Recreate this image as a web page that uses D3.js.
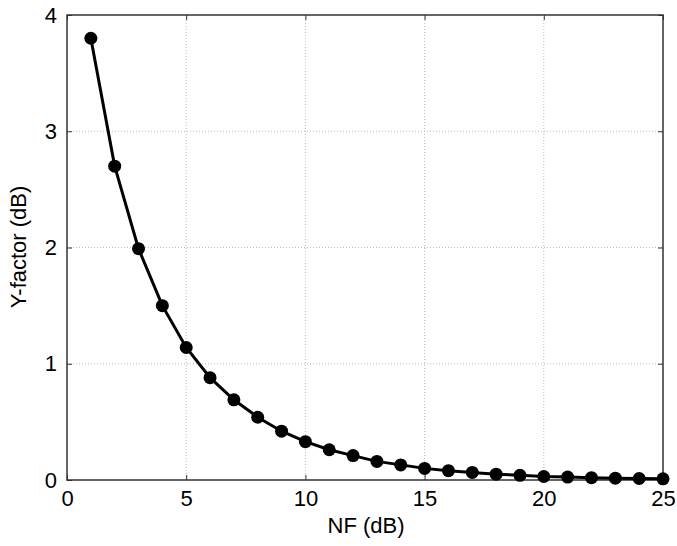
<!DOCTYPE html>
<meta charset="utf-8">
<style>
  body { margin: 0; background: #fff; }
  text { font-family: "Liberation Sans", Arial, sans-serif; }
</style>
<div id="chart"></div>
<script src="https://cdn.jsdelivr.net/npm/d3@7"></script>
<script>

// data
var nf = [1, 2, 3, 4, 5, 6, 7, 8, 9, 10, 11, 12, 13, 14, 15, 16, 17, 18, 19, 20, 21, 22, 23, 24, 25];
var yfactor = [3.80, 2.70, 1.99, 1.50, 1.14, 0.88, 0.69, 0.54, 0.42, 0.33, 0.26, 0.21, 0.16, 0.13, 0.10,
               0.08, 0.065, 0.05, 0.04, 0.03, 0.025, 0.02, 0.016, 0.013, 0.01];
var xTicks = [0, 5, 10, 15, 20, 25];
var yTicks = [0, 1, 2, 3, 4];

var width = 677, height = 546;
var margin = {top: 15, right: 14, bottom: 66, left: 67};

var svg = d3.select("#chart").append("svg")
    .attr("width", width)
    .attr("height", height);

var x = d3.scaleLinear().domain([0, 25]).range([margin.left, width - margin.right]);
var y = d3.scaleLinear().domain([0, 4]).range([height - margin.bottom, margin.top]);

//grid
svg.append("g")
  .selectAll("line")
  .data(xTicks.slice(1, -1))
  .enter().append("line")
    .attr("x1", d => x(d)).attr("x2", d => x(d))
    .attr("y1", y(0)).attr("y2", y(4))
    .attr("stroke", "#bbb")
    .attr("stroke-dasharray", "1,2");

svg.append("g")
  .selectAll("line")
  .data(yTicks.slice(1, -1))
  .enter().append("line")
    .attr("y1", d => y(d)).attr("y2", d => y(d))
    .attr("x1", x(0)).attr("x2", x(25))
    .attr("stroke", "#bbb")
    .attr("stroke-dasharray", "1,2");

//axes, ticks inside
function styleAxis(g) {
  g.select(".domain").remove();
  g.selectAll(".tick line").attr("stroke", "#333").attr("stroke-width", 1);
  g.selectAll(".tick text")
      .attr("fill", "#000")
      .style("font-size", "22px")
      .style("font-family", "'Liberation Sans', Arial, sans-serif");
}

svg.append("g")
    .attr("transform", "translate(0," + y(0) + ")")
    .call(d3.axisBottom(x).tickValues(xTicks).tickSize(-5).tickPadding(10).tickFormat(d3.format("d")))
    .call(styleAxis);

svg.append("g")
    .attr("transform", "translate(0," + y(4) + ")")
    .call(d3.axisTop(x).tickValues(xTicks).tickSize(-5).tickFormat(""))
    .call(styleAxis);

svg.append("g")
    .attr("transform", "translate(" + x(0) + ",0)")
    .call(d3.axisLeft(y).tickValues(yTicks).tickSize(-5).tickPadding(10).tickFormat(d3.format("d")))
    .call(styleAxis);

svg.append("g")
    .attr("transform", "translate(" + x(25) + ",0)")
    .call(d3.axisRight(y).tickValues(yTicks).tickSize(-5).tickFormat(""))
    .call(styleAxis);

svg.append("rect")
    .attr("x", x(0))
    .attr("y", y(4))
    .attr("width", x(25) - x(0))
    .attr("height", y(0) - y(4))
    .attr("fill", "none")
    .attr("stroke", "#333")
    .attr("stroke-width", 1.5);

//line + markers
var pts = nf.map((d, i) => [d, yfactor[i]]);

svg.append("path")
    .datum(pts)
    .attr("fill", "none")
    .attr("stroke", "#000")
    .attr("stroke-width", 3)
    .attr("d", d3.line().x(d => x(d[0])).y(d => y(d[1])));

svg.selectAll(".dot")
    .data(pts)
    .enter().append("circle")
    .attr("class", "dot")
    .attr("cx", d => x(d[0]))
    .attr("cy", d => y(d[1]))
    .attr("r", 6.5)
    .attr("fill", "#000");

//labels
svg.append("text")
    .attr("x", 366)
    .attr("y", 533)
    .attr("text-anchor", "middle")
    .style("font-size", "22px")
    .text("NF (dB)");

svg.append("text")
    .attr("transform", "translate(26,247) rotate(-90)")
    .attr("text-anchor", "middle")
    .style("font-size", "22px")
    .text("Y-factor (dB)");
</script>
